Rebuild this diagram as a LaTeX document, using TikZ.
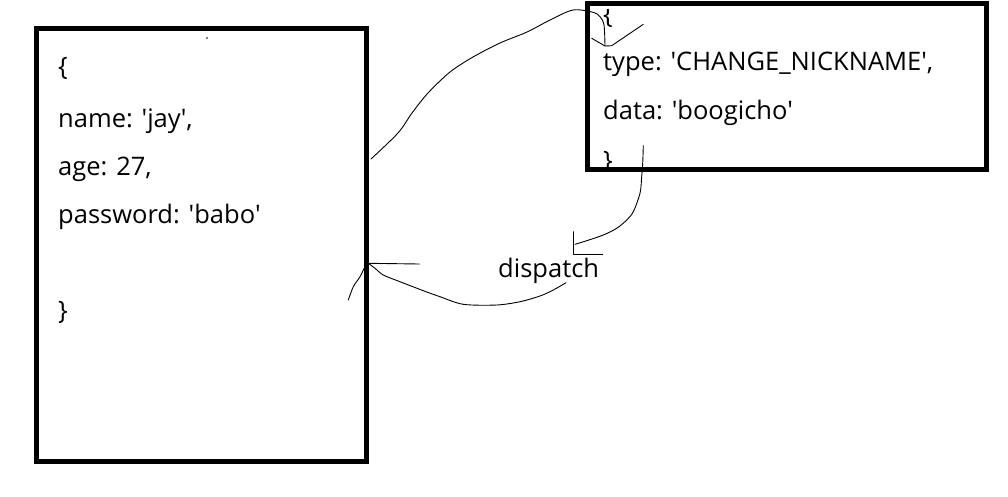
\documentclass[tikz,border=0pt]{standalone}
\usepackage{fontspec}
\setmainfont{Open Sans}
\newcommand{\sq}{\textquotesingle}
\begin{document}
\begin{tikzpicture}[x=1pt,y=-1pt,
  box/.style={draw=black,line width=5pt},
  txt/.style={inner sep=0pt,anchor=base west,font=\fontsize{25.5}{30}\selectfont},
  pen/.style={draw=black,line width=0.9pt,line cap=round,line join=round}]
\useasboundingbox[fill=white] (0,0) rectangle (1008,496);

% left box texts
\node[txt] (lb1) at (58,75.5) {\{};
\node[txt] (lname) at (58,127) {name: \sq jay\sq,};
\node[txt] (lage) at (58,175.5) {age: 27,};
\node[txt] (lpass) at (58,223) {password: \sq babo\sq};
\node[txt] (lb2) at (58,319.5) {\}};
\fill (207,38) circle (0.8);

% right box texts
\begin{scope}
\clip (590,9) rectangle (985,167);
\node[txt] (rb1) at (603,23.5) {\{};
\node[txt] (rtype) at (603,70) {type: \sq CHANGE\_NICKNAME\sq,};
\node[txt] (rdata) at (603,119) {data: \sq boogicho\sq};
\node[txt] (rb2) at (603,169) {\}};
\end{scope}

\node[txt] (disp) at (498,277) {dispatch};

% boxes
\draw[box] (36.5,28.5) rectangle (366.5,461.5);
\draw[box] (587.5,3.5) rectangle (986.5,169.5);

% curve from left box up to action
\coordinate (c1s) at (371,159);
\coordinate (c1e) at (605,46);
\draw[pen] (c1s) plot[smooth,tension=0.5] coordinates {(371,159) (398,133) (412,113) (428,93) (450,72) (473,57) (500,43) (527,32) (550,20) (573,10) (593,12.3) (600,16.7) (604,25) (605,46)};
\draw[pen] (591.7,38.3) -- (c1e) -- (611.7,45.7) -- (643.3,24.3);

% curve from action down to dispatch
\coordinate (c2s) at (643.3,145.7);
\coordinate (c2e) at (575,244.3);
\draw[pen] plot[smooth,tension=0.5] coordinates {(643.3,145.7) (642.7,163.3) (641.7,176.7) (640,193.3) (633.3,211.7) (626.7,220) (616.7,228.3) (603.3,235) (586.7,240.7) (575,244.3)};
\draw[pen] (573.3,231.7) -- (573.3,254.3) -- (602.7,254.3);

% curve from dispatch back to left box
\coordinate (c3s) at (566,282.7);
\coordinate (c3e) at (368.3,263.3);
\draw[pen] plot[smooth,tension=0.5] coordinates {(566,282.7) (553.3,290) (540,296) (520,301.7) (496.7,305) (463.3,304.3) (440,296.7) (423.3,290.7) (400,281.7) (383.3,275) (375,268.3) (368.3,263.3)};
\draw[pen] (419.3,264) -- (c3e);
\draw[pen] plot[smooth,tension=0.5] coordinates {(368.3,263.3) (365,266.7) (360,276.7) (353.3,286.7) (348.3,300)};
\end{tikzpicture}
\end{document}
